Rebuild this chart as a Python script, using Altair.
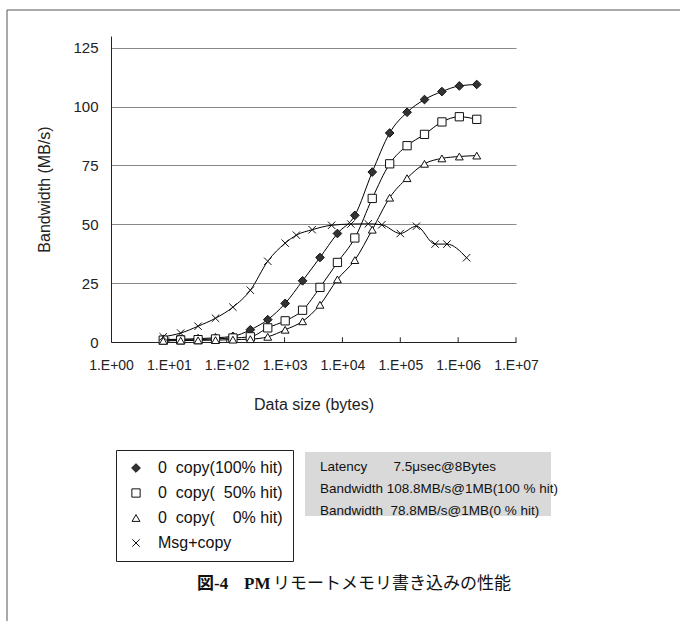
import altair as alt
import pandas as pd

# ---- data ----
sizes_pow2 = [8, 16, 32, 64, 128, 256, 512, 1024, 2048, 4096, 8192, 16384, 32768,
              65536, 131072, 262144, 524288, 1048576, 2097152]
bw_100 = [1.0, 1.2, 1.4, 1.8, 2.4, 5.2, 9.5, 16.4, 26.0, 35.9, 46.1, 53.8, 72.2,
          88.8, 97.6, 103.0, 106.4, 108.8, 109.4]
bw_50 = [0.8, 0.9, 1.0, 1.3, 1.7, 2.2, 6.0, 9.0, 13.5, 23.2, 33.8, 44.2, 61.0,
         75.7, 83.4, 88.2, 93.5, 95.7, 94.6]
bw_0 = [0.5, 0.6, 0.7, 0.8, 1.0, 1.2, 2.2, 5.2, 8.8, 15.8, 26.6, 34.8, 47.7,
        61.3, 69.6, 75.7, 78.0, 78.8, 79.2]
sizes_msg = [8, 16, 32, 64, 128, 256, 512, 1024, 1600, 3000, 6500, 14000, 28000,
             48000, 100000, 190000, 400000, 640000, 1400000]
bw_msg = [2.2, 3.8, 6.7, 10.1, 14.8, 22.0, 34.3, 42.0, 45.4, 47.7, 49.6, 50.1, 50.2,
          49.8, 46.1, 49.2, 41.6, 41.6, 35.8]

NB = "\u00a0"
series_names = [
    f"0{NB}{NB}copy(100% hit)",
    f"0{NB}{NB}copy({NB}{NB}50% hit)",
    f"0{NB}{NB}copy({NB}{NB}{NB}{NB}0% hit)",
    "Msg+copy",
]
x_ticks = [1, 10, 100, 1000, 10000, 100000, 1000000, 10000000]
y_ticks = [0, 25, 50, 75, 100, 125]
annotation_lines = [
    f"Latency{NB}{NB}{NB}{NB}{NB}{NB}{NB}7.5\u03bcsec@8Bytes",
    f"Bandwidth{NB}108.8MB/s@1MB(100{NB}%{NB}hit)",
    f"Bandwidth{NB}{NB}78.8MB/s@1MB(0{NB}%{NB}hit)",
]
caption_bold = "図-4"
caption_pm = "PM"
caption_rest = "リモートメモリ書き込みの性能"

# ---- build table ----
rows = []
for s, v in zip(sizes_pow2, bw_100):
    rows.append({"size": s, "bw": v, "series": series_names[0]})
for s, v in zip(sizes_pow2, bw_50):
    rows.append({"size": s, "bw": v, "series": series_names[1]})
for s, v in zip(sizes_pow2, bw_0):
    rows.append({"size": s, "bw": v, "series": series_names[2]})
for s, v in zip(sizes_msg, bw_msg):
    rows.append({"size": s, "bw": v, "series": series_names[3]})
df = pd.DataFrame(rows)

FONT = "Liberation Sans"
SERIF = "Liberation Serif, Noto Sans CJK JP"
X_PATH = "M-1,-1L1,1M1,-1L-1,1"

x_enc = alt.X(
    "size:Q",
    scale=alt.Scale(type="log", domain=[1, 1e7]),
    axis=alt.Axis(
        values=x_ticks,
        labelExpr="'1.E+0' + round(log(datum.value) / LN10)",
        title="Data size (bytes)",
        grid=False,
        ticks=False,
        domainColor="#222",
        labelFont=FONT,
        labelFontSize=14,
        labelColor="#222",
        labelPadding=16,
        labelFlush=False,
        titleFont=FONT,
        titleFontSize=16,
        titleFontWeight="normal",
        titleColor="#222",
        titlePadding=24,
    ),
)
y_enc = alt.Y(
    "bw:Q",
    scale=alt.Scale(domain=[0, 125]),
    axis=alt.Axis(
        values=y_ticks,
        grid=True,
        gridColor="#888",
        gridWidth=1,
        ticks=False,
        domainColor="#222",
        labelFont=FONT,
        labelFontSize=15,
        labelColor="#222",
        labelPadding=13,
        title="Bandwidth (MB/s)",
        titleFont=FONT,
        titleFontSize=16,
        titleFontWeight="normal",
        titleColor="#222",
        titlePadding=20,
    ),
)

legend = alt.Legend(
    orient="none",
    legendX=5,
    legendY=414,
    strokeColor="#222",
    fillColor="white",
    padding=10,
    labelFont=FONT,
    labelFontSize=16,
    labelColor="#111",
    symbolStrokeWidth=1,
    symbolOffset=2,
    labelOffset=14,
    rowPadding=9,
    labelLimit=300,
)

order_scale = dict(domain=series_names)

base = alt.Chart(df)

lines = base.mark_line(color="black", strokeWidth=1, interpolate="monotone").encode(
    x=x_enc, y=y_enc, detail="series:N"
)

points = base.mark_point(opacity=1, strokeWidth=1).encode(
    x=x_enc,
    y=y_enc,
    shape=alt.Shape(
        "series:N", title=None,
        scale=alt.Scale(range=["diamond", "square", "triangle-up", X_PATH], **order_scale),
        legend=legend,
    ),
    fill=alt.Fill(
        "series:N", title=None,
        scale=alt.Scale(range=["#333333", "white", "white", "white"], **order_scale),
        legend=legend,
    ),
    stroke=alt.Stroke(
        "series:N", title=None,
        scale=alt.Scale(range=["#111111", "#111111", "#111111", "#111111"], **order_scale),
        legend=legend,
    ),
    size=alt.Size(
        "series:N", title=None,
        scale=alt.Scale(range=[75, 55, 65, 130], **order_scale),
        legend=legend,
    ),
)

tick_df = pd.DataFrame({"t": x_ticks[1:]})
ticks = alt.Chart(tick_df).mark_rule(color="#222", strokeWidth=1).encode(
    x=alt.X("t:Q", scale=alt.Scale(type="log", domain=[1, 1e7])),
    y=alt.datum(0),
    y2=alt.datum(2),
)

# figure frame (top and left border of the scanned figure)
frame_top = alt.Chart().mark_rule(color="#555", strokeWidth=1).encode(
    x=alt.value(-104), x2=alt.value(569), y=alt.value(-26)
)
frame_left = alt.Chart().mark_rule(color="#555", strokeWidth=1).encode(
    x=alt.value(-104), y=alt.value(-26), y2=alt.value(585)
)

# annotation box
ann_box = alt.Chart().mark_rect(fill="#d9d9d9").encode(
    x=alt.value(194), x2=alt.value(440), y=alt.value(416), y2=alt.value(480)
)
ann_texts = []
for i, line in enumerate(annotation_lines):
    ann_texts.append(
        alt.Chart().mark_text(
            text=line, align="left", baseline="middle", font=FONT,
            fontSize=13.5, color="#111"
        ).encode(x=alt.value(209), y=alt.value(431 + 22 * i))
    )

cap1 = alt.Chart().mark_text(
    text=caption_bold, align="left", baseline="middle", font=SERIF,
    fontSize=17, fontWeight="bold", color="#111"
).encode(x=alt.value(86), y=alt.value(548))
cap2 = alt.Chart().mark_text(
    text=caption_pm, align="left", baseline="middle", font=SERIF,
    fontSize=17, fontWeight="bold", color="#111"
).encode(x=alt.value(133), y=alt.value(548))
cap3 = alt.Chart().mark_text(
    text=caption_rest, align="left", baseline="middle", font="Noto Sans CJK JP",
    fontSize=17, color="#111"
).encode(x=alt.value(162), y=alt.value(548))

chart = alt.layer(
    frame_top, frame_left, ann_box, *ann_texts, cap1, cap2, cap3,
    lines, points, ticks
).properties(
    width=405,
    height=306,
    padding={"left": 111, "top": 36, "right": 164, "bottom": 297},
    autosize=alt.AutoSizeParams(type="none"),
    background="white",
).configure_view(stroke=None)

chart.save("out.html", embed_options={"renderer": "svg", "actions": False})
